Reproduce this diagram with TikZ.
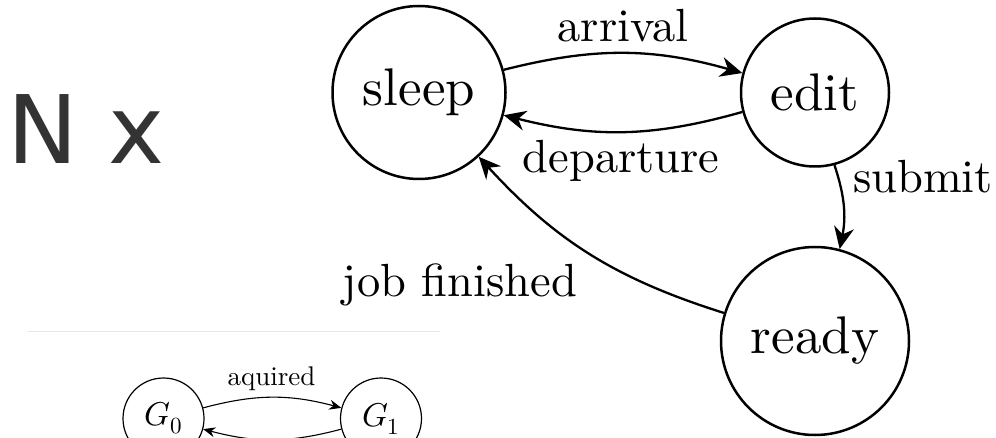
\documentclass[tikz,border=0pt]{standalone}
\usepackage{fontspec}
\usepackage{unicode-math}
% keep the 10pt design of Latin Modern at every size
\setmainfont{lmroman10}[Extension=.otf, UprightFont=*-regular, ItalicFont=*-italic, BoldFont=*-bold]
\newfontfamily\labelsans{DejaVu Sans}
\usetikzlibrary{arrows.meta}
\definecolor{darktext}{HTML}{333333}
\definecolor{rulegray}{HTML}{E6E6E6}
\tikzset{
  bigstate/.style={circle, draw, line width=2.5pt, inner sep=0pt, font=\fontsize{53}{60}\selectfont},
  bigedge/.style={line width=2.3pt, -{Stealth[length=22pt,width=20pt]}, bend left=15},
  biglabel/.style={anchor=base, inner sep=0pt, font=\fontsize{46.5}{52}\selectfont},
  smallstate/.style={circle, draw, line width=1.2pt, inner sep=0pt, minimum size=81pt, font=\fontsize{33}{38}\selectfont},
  smalledge/.style={line width=1.1pt, -{Stealth[length=12pt,width=10pt]}, bend left=15},
  smalllabel/.style={anchor=base, inner sep=0pt, font=\fontsize{27}{32}\selectfont}
}
\begin{document}
\begin{tikzpicture}[x=1pt, y=1pt]
  \fill[white] (0,0) rectangle (996,-438);
  \useasboundingbox (0,0) rectangle (996,-438);

  % large heading text
  \node[anchor=base west, inner sep=0pt, text=darktext, font=\labelsans\fontsize{94.6}{110}\selectfont] (nx) at (7.7,-164) {N x};

  % main state machine
  \node[bigstate, minimum size=173pt] (sleep) at (419,-92.5) {sleep};
  \node[bigstate, minimum size=148pt] (edit)  at (815,-92.5) {edit};
  \node[bigstate, minimum size=188pt] (ready) at (815,-341) {ready};

  \draw[bigedge] (sleep) to (edit);
  \draw[bigedge] (edit) to (sleep);
  \draw[bigedge] (edit) to (ready);
  \draw[bigedge] (ready) to (sleep);

  \node[biglabel] (larrival)   at (623,-42)  {arrival};
  \node[biglabel] (ldeparture) at (621,-173) {departure};
  \node[biglabel] (lsubmit)    at (923,-193) {submit};
  \node[biglabel] (ljob)       at (460,-297) {job finished};

  % separator rule
  \coordinate (ruleL) at (28,-332);
  \coordinate (ruleR) at (440,-332);
  \draw[rulegray, line width=1pt] (ruleL) -- (ruleR);

  % small two-state machine
  \node[smallstate] (g0) at (163.5,-418.5) {$G_0$};
  \node[smallstate] (g1) at (381,-418.5) {$G_1$};
  \draw[smalledge] (g0) to (g1);
  \draw[smalledge] (g1) to (g0);
  \node[smalllabel] (laquired) at (271.5,-385) {aquired};
\end{tikzpicture}
\end{document}
